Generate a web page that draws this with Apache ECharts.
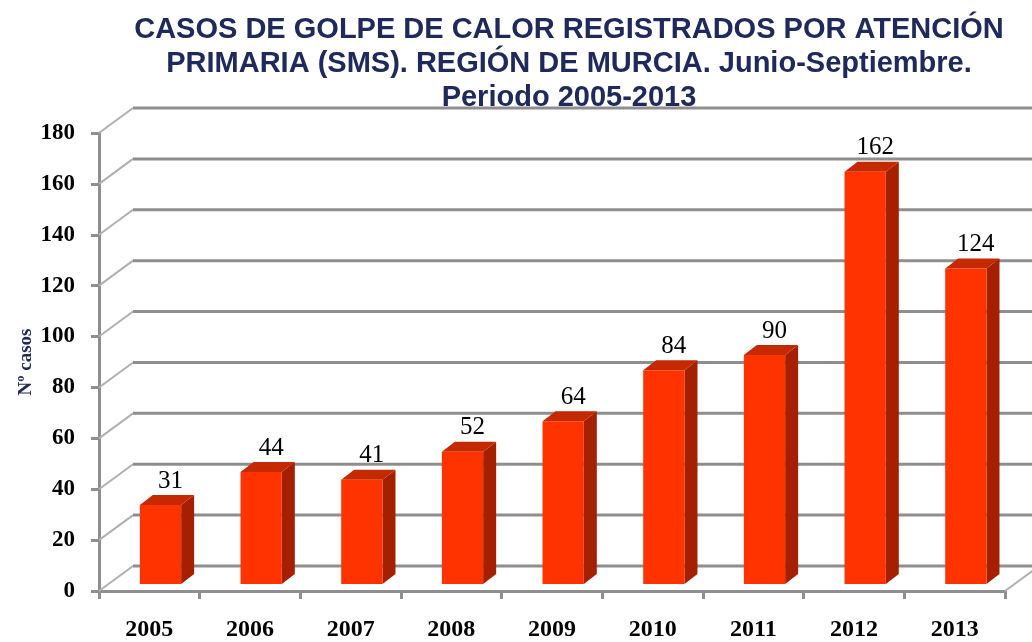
<!DOCTYPE html>
<html>
<head>
<meta charset="utf-8">
<script src="https://cdn.jsdelivr.net/npm/echarts@6/dist/echarts.min.js"></script>
<style>
html,body{margin:0;padding:0;background:#fff;}
#chart{width:1032px;height:642px;}
</style>
</head>
<body>
<div id="chart"></div>
<script>
const titleLines = [
  'CASOS DE GOLPE DE CALOR REGISTRADOS POR ATENCIÓN',
  'PRIMARIA (SMS). REGIÓN DE MURCIA. Junio-Septiembre.',
  'Periodo 2005-2013'
];
const years = ['2005','2006','2007','2008','2009','2010','2011','2012','2013'];
const cases = [31, 44, 41, 52, 64, 84, 90, 162, 124];
const yTicks = [0, 20, 40, 60, 80, 100, 120, 140, 160, 180];
const yAxisName = 'Nº casos';

const chart = echarts.init(document.getElementById('chart'), null, {renderer: 'canvas'});

const GRAY = '#8e8e8e';
const WALL_DX = 34, WALL_DY = 25;
const SERIF = '"Liberation Serif", "Times New Roman", serif';

const option = {
  backgroundColor: '#ffffff',
  animation: false,
  graphic: [{
    type: 'text',
    x: 569,
    y: 13,
    style: {
      text: titleLines.join('\n'),
      textAlign: 'center',
      fontFamily: '"Liberation Sans", Arial, sans-serif',
      fontWeight: 'bold',
      fontSize: 29,
      lineHeight: 34,
      fill: '#20295c'
    }
  }],
  grid: {left: 99, right: 27, top: 133, bottom: 50, containLabel: false},
  xAxis: {
    type: 'category',
    data: years,
    boundaryGap: true,
    axisLine: {show: true, lineStyle: {color: GRAY, width: 3}},
    axisTick: {show: true, length: 8, lineStyle: {color: GRAY, width: 3}},
    axisLabel: {
      margin: 27,
      fontFamily: SERIF,
      fontWeight: 'bold',
      fontSize: 24,
      color: '#000'
    },
    splitLine: {show: false}
  },
  yAxis: {
    type: 'value',
    min: 0, max: 180, interval: 20,
    name: yAxisName,
    nameLocation: 'middle',
    nameRotate: 90,
    nameGap: 63,
    nameMoveOverlap: false,
    nameTextStyle: {
      fontFamily: SERIF,
      fontWeight: 'bold',
      fontSize: 19,
      color: '#20295c'
    },
    axisLine: {show: true, lineStyle: {color: GRAY, width: 3}},
    axisTick: {show: true, length: 8, lineStyle: {color: GRAY, width: 3}},
    axisLabel: {
      margin: 24,
      fontFamily: SERIF,
      fontWeight: 'bold',
      fontSize: 23,
      color: '#000',
      padding: [4, 0, 0, 0]
    },
    splitLine: {show: false}
  },
  series: [
    {
      type: 'custom',
      name: 'walls',
      clip: false,
      silent: true,
      z: 1,
      encode: {x: 0, y: 1},
      data: yTicks.map(v => [0, v]),
      renderItem: function (params, api) {
        const cs = params.coordSys;
        const v = api.value(1);
        const y = api.coord([0, v])[1];
        const x0 = cs.x, x1 = cs.x + cs.width;
        const children = [
          {type: 'line', shape: {x1: x0, y1: y, x2: x0 + WALL_DX, y2: y - WALL_DY},
           style: {stroke: '#b0b0b0', lineWidth: 2}},
          {type: 'line', shape: {x1: x0 + WALL_DX, y1: y - WALL_DY, x2: x1 + WALL_DX + 10, y2: y - WALL_DY},
           style: {stroke: GRAY, lineWidth: 3}}
        ];
        if (v === 0) {
          children.push({type: 'line', shape: {x1: x1, y1: y, x2: x1 + WALL_DX, y2: y - WALL_DY},
            style: {stroke: '#b0b0b0', lineWidth: 2}});
        }
        return {type: 'group', children: children};
      }
    },
    {
      type: 'custom',
      name: 'Nº casos',
      clip: false,
      z: 3,
      encode: {x: 0, y: 1},
      data: cases.map((v, i) => [i, v]),
      renderItem: function (params, api) {
        const idx = api.value(0), v = api.value(1);
        const base = api.coord([idx, 0]);
        const top = api.coord([idx, v]);
        const bw = api.size([1, 0])[0];
        const fw = bw * 0.41;
        const left = base[0] - bw * 0.094;
        const sy = 7;
        const bottomY = base[1] - sy;
        const topY = top[1] - sy;
        const dX = 13, dY = 10;
        const right = left + fw;
        return {
          type: 'group',
          children: [
            {type: 'polygon', shape: {points: [[right, topY], [right + dX, topY - dY], [right + dX, bottomY - dY], [right, bottomY]]},
             style: {fill: '#a52000'}},
            {type: 'polygon', shape: {points: [[left, topY], [left + dX, topY - dY], [right + dX, topY - dY], [right, topY]]},
             style: {fill: '#c42900'}},
            {type: 'rect', shape: {x: left, y: topY, width: fw, height: bottomY - topY},
             style: {fill: '#ff3300'}},
            {type: 'text', x: left + fw / 2 + 10, y: topY - 24,
             style: {text: String(v), textAlign: 'center', textVerticalAlign: 'middle',
                     fontFamily: SERIF, fontSize: 25, fill: '#000'}}
          ]
        };
      }
    }
  ]
};
chart.setOption(option);
</script>
</body>
</html>
